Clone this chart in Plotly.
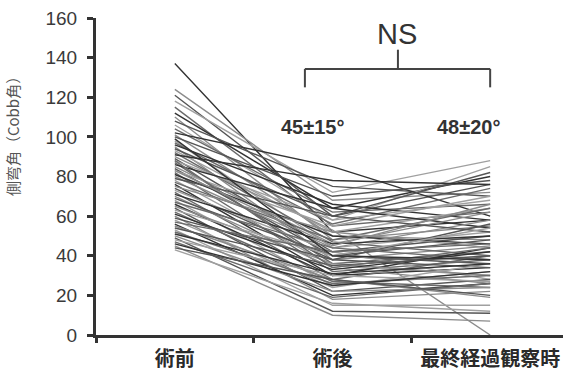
import plotly.graph_objects as go

categories = ["術前", "術後", "最終経過観察時"]

pre = [137, 124, 121, 118, 115, 112, 110, 108, 106, 104, 102, 101, 100, 98, 97, 96,
       95, 94, 93, 92, 91, 90, 89, 88, 87, 86, 85, 84, 83, 82, 81, 80, 79, 78, 77, 76,
       75, 74, 73, 72, 71, 70, 69, 68, 67, 66, 65, 64, 63, 62, 61, 60, 59, 58, 57, 56,
       55, 54, 53, 52, 51, 50, 49, 48, 47, 46, 45, 44, 43, 88, 99, 83]
post = [52, 68, 60, 72, 55, 64, 48, 75, 58, 62, 85, 50, 70, 44, 56, 66,
        38, 60, 52, 47, 78, 53, 42, 58, 36, 64, 46, 40, 55, 32, 50, 44, 60, 35, 48, 30,
        52, 38, 42, 28, 46, 34, 40, 25, 44, 30, 36, 22, 40, 27, 33, 18, 38, 24, 42, 20,
        28, 35, 15, 26, 31, 22, 12, 30, 19, 25, 10, 28, 16, 34, 40, 45]
final = [58, 72, 76, 88, 62, 80, 55, 70, 85, 66, 60, 48, 78, 52, 74, 58,
         45, 82, 64, 40, 76, 0, 50, 68, 42, 54, 62, 36, 70, 38, 46, 58, 52, 30, 64, 34,
         44, 56, 28, 40, 50, 26, 48, 32, 38, 44, 30, 28, 54, 24, 42, 22, 34, 36, 46, 26,
         19, 40, 15, 30, 36, 24, 11, 27, 26, 32, 7, 20, 12, 44, 38, 66]

y_ticks = [0, 20, 40, 60, 80, 100, 120, 140, 160]
mean_labels = ["45±15°", "48±20°"]

shades = ["#333333", "#8c8c8c", "#555555", "#a0a0a0", "#6a6a6a"]

fig = go.Figure()
for i in range(len(pre)):
    fig.add_trace(go.Scatter(
        x=categories, y=[pre[i], post[i], final[i]], mode="lines",
        line=dict(color=shades[i % len(shades)], width=1.4),
        showlegend=False, hoverinfo="skip", cliponaxis=False))

fig.update_layout(
    width=563, height=382, margin=dict(l=96, r=0, t=18, b=47),
    paper_bgcolor="white", plot_bgcolor="white",
    font=dict(family="Liberation Sans, Arial, sans-serif", color="#333"),
    xaxis=dict(type="category", range=[-0.5, 2.462], tickson="boundaries",
               ticks="outside", ticklen=5, tickwidth=2.5, tickcolor="#333",
               showline=True, linewidth=3, linecolor="#333", showgrid=False,
               zeroline=False,
               tickfont=dict(family="Noto Sans CJK JP", size=20, color="#2a2a2a",
                             weight="bold"),
               ticklabelstandoff=4),
    yaxis=dict(range=[0, 160], tickvals=y_ticks, ticks="outside", ticklen=6,
               tickwidth=2.5, tickcolor="#333", showline=True, linewidth=3,
               linecolor="#333", showgrid=False, zeroline=False,
               tickfont=dict(size=19, color="#3a3a3a"), ticklabelstandoff=6),
)

fig.add_annotation(text="側弯角（Cobb角）", xref="paper", yref="paper",
                   x=-0.18, y=0.64, xanchor="center", textangle=-90,
                   showarrow=False,
                   font=dict(family="Noto Sans CJK JP", size=15, color="#555"))

fig.add_annotation(text="NS", xref="x", yref="y", x=1.41, y=152,
                   showarrow=False, font=dict(size=29, color="#333"))
fig.add_annotation(text=mean_labels[0], xref="x", yref="y", x=0.87, y=105,
                   showarrow=False, font=dict(size=20, color="#333", weight="bold"))
fig.add_annotation(text=mean_labels[1], xref="x", yref="y", x=1.865, y=105,
                   showarrow=False, font=dict(size=20, color="#333", weight="bold"))

bl = dict(color="#444", width=2)
fig.add_shape(type="line", xref="x", yref="y", x0=0.825, x1=2.0, y0=134.3, y1=134.3, line=bl)
fig.add_shape(type="line", xref="x", yref="y", x0=0.825, x1=0.825, y0=134.3, y1=125, line=bl)
fig.add_shape(type="line", xref="x", yref="y", x0=2.0, x1=2.0, y0=134.3, y1=125, line=bl)
fig.add_shape(type="line", xref="x", yref="y", x0=1.415, x1=1.415, y0=134.3, y1=144, line=bl)

fig.write_html("out.html")
